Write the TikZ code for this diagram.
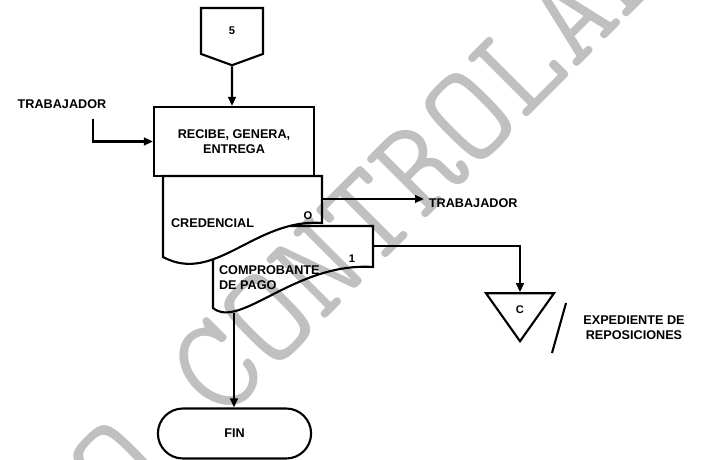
\documentclass[tikz,border=0pt]{standalone}
\usepackage{fontspec}
\setmainfont{Liberation Sans}
\usetikzlibrary{positioning,arrows.meta,shapes.geometric,shapes.misc,shapes.symbols}
\tikzset{>={Triangle[width=2.3mm,length=2.7mm]}}
\definecolor{stampgray}{RGB}{192,192,192}
\tikzstyle{lbl} = [font=\bfseries\fontsize{10.8}{13}\selectfont, align=center]
\tikzstyle{tag} = [font=\bfseries\fontsize{9.5}{11}\selectfont, inner sep=0pt]
\tikzstyle{block} = [lbl, draw=black, rectangle, minimum height=2.07cm, minimum width=4.8cm]
\tikzstyle{offpage} = [tag, draw, signal, signal to=south, signal pointer angle=140, minimum width=1.86cm, minimum height=1.41cm]
\tikzstyle{archive} = [tag, draw, isosceles triangle, isosceles triangle stretches, shape border rotate=-90, minimum width=2.04cm, minimum height=1.44cm]
\tikzstyle{term} = [lbl, draw, rounded rectangle, minimum width=4.83cm, minimum height=1.5cm]
\tikzstyle{stamp} = [font=\ttfamily\addfontfeatures{LetterSpace=5.8}\fontsize{118}{118}\selectfont, text=stampgray, rotate=45, inner sep=0pt]

\begin{document}
\begin{tikzpicture}[x=0.03cm, y=-0.03cm, line width=1.8pt]
    \useasboundingbox (0,0) rectangle (704,460);

    % stamp goes behind the chart
    \begin{scope}
        \clip (0,0) rectangle (704,460);
        \node[stamp] (stamp) at (217,368) {COPIA NO CONTROLADA};
    \end{scope}

    \node[offpage, anchor=north] (conn5) at (232,7) {5};
    \node[block] (recibe) at (234,141.5) {RECIBE, GENERA,\\ ENTREGA};
    \node[lbl] (trabIn) at (62,104) {TRABAJADOR};
    \coordinate (trabInEnd) at (93,119);

    % credencial in front, comprobante behind it
    \draw (163,176) -- (322,176) -- (322,223)
        .. controls (255,218) and (215,285) .. (163,257) -- cycle;
    \draw (213,259) -- (213,308)
        .. controls (240,330) and (295,262) .. (373,267) -- (373,226) -- (290,226);
    \node[lbl, anchor=west, inner sep=0pt] (cred) at (170,223) {CREDENCIAL};
    \node[lbl, anchor=west, inner sep=0pt, align=left] (comp) at (218,278) {COMPROBANTE\\ DE PAGO};
    \node[tag] (copy0) at (308,216) {O};
    \node[tag] (copy1) at (352,259) {1};
    \coordinate (credOut) at (322,199);
    \coordinate (compOut) at (373,246);
    \coordinate (compDown) at (234,313);

    \node[lbl, anchor=west] (trabOut) at (424,203) {TRABAJADOR};
    \node[archive, anchor=apex] (arch) at (520,344) {C};
    \node[lbl] (expLbl) at (634,327.5) {EXPEDIENTE DE\\ REPOSICIONES};
    \coordinate (slashTop) at (566,303);
    \coordinate (slashBot) at (552,353);
    \node[term] (fin) at (234.5,433.5) {FIN};

    \draw[->] (conn5) -- (conn5 |- recibe.north);
    \draw[->] (trabInEnd) |- (recibe.west);
    \draw[->] (credOut) -- (credOut -| trabOut.west);
    \draw[->] (compOut) -| (arch.north);
    \draw (slashTop) -- (slashBot);
    \draw[->] (compDown) -- (compDown |- fin.north);

\end{tikzpicture}
\end{document}
